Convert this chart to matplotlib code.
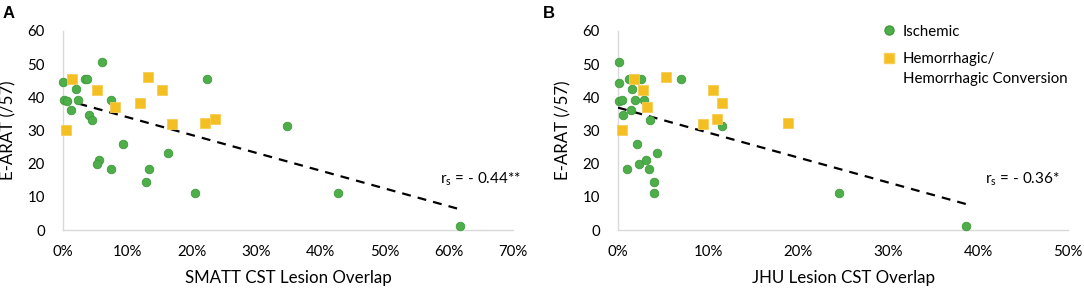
import matplotlib
matplotlib.use("Agg")
import matplotlib.pyplot as plt
import numpy as np
from matplotlib.ticker import FuncFormatter, MultipleLocator
from matplotlib.lines import Line2D

plt.rcParams['font.family'] = ['Lato', 'DejaVu Sans']

# Panel A: SMATT CST lesion overlap (%) vs E-ARAT
a_isch_x = [0.0, 0.1, 0.6, 1.3, 2.0, 2.4, 3.4, 3.7, 4.1, 4.5, 6.1, 7.4, 5.6, 5.3, 7.5,
            9.4, 12.9, 13.4, 16.3, 20.5, 22.4, 34.8, 42.8, 61.8]
a_isch_y = [44.5, 39.3, 38.9, 36.1, 42.4, 39.1, 45.6, 45.6, 34.8, 33.1, 50.8, 39.1, 21.1, 19.9, 18.3,
            26.0, 14.5, 18.3, 23.2, 11.3, 45.4, 31.4, 11.3, 1.1]
a_hem_x = [1.4, 0.5, 5.3, 8.1, 11.9, 13.2, 15.4, 17.0, 22.1, 23.6]
a_hem_y = [45.4, 30.3, 42.1, 37.1, 38.4, 46.0, 42.3, 31.9, 32.4, 33.5]
a_trend = (39.4, -0.537)   # intercept, slope
a_label = r'r$_\mathregular{s}$ = - 0.44**'

# Panel B: JHU lesion CST overlap (%) vs E-ARAT
b_isch_x = [0.08, 0.08, 0.1, 0.4, 0.6, 1.0, 1.2, 1.4, 1.6, 1.9, 2.1, 2.3, 2.6, 2.9, 3.1, 3.4,
            3.5, 4.0, 4.0, 4.3, 7.0, 11.6, 24.6, 38.7]
b_isch_y = [50.8, 44.4, 38.9, 39.3, 34.6, 18.3, 45.6, 36.1, 42.4, 39.1, 26.0, 19.9, 45.6, 39.1, 21.1, 18.3,
            33.1, 14.5, 11.3, 23.2, 45.4, 31.4, 11.3, 1.1]
b_hem_x = [1.8, 0.4, 2.8, 3.2, 5.3, 10.5, 11.6, 9.4, 11.0, 18.9]
b_hem_y = [45.4, 30.3, 42.1, 37.1, 46.0, 42.3, 38.4, 31.9, 33.5, 32.4]
b_trend = (36.9, -0.752)
b_label = r'r$_\mathregular{s}$ = - 0.36*'

legend_labels = ['Ischemic', 'Hemorrhagic/', 'Hemorrhagic Conversion']

GREEN = '#4eae4a'
GREEN_E = '#3f9a3c'
GOLD = '#f4bf22'
GOLD_E = '#f7cd55'

fig = plt.figure(figsize=(10.84, 2.89), dpi=100)
W, H = 1084, 289

def make_ax(left_px, xmax, xlabel, ix, iy, hx, hy, trend, label, label_xy):
    ax = fig.add_axes([left_px / W, (H - 230) / H, 450 / W, 199 / H])
    ax.set_xlim(0, xmax)
    ax.set_ylim(0, 60)
    ax.xaxis.set_major_locator(MultipleLocator(10))
    ax.yaxis.set_major_locator(MultipleLocator(10))
    ax.xaxis.set_major_formatter(FuncFormatter(lambda v, p: f'{int(round(v))}%'))
    for s in ['top', 'right']:
        ax.spines[s].set_visible(False)
    for s in ['left', 'bottom']:
        ax.spines[s].set_color('#d9d9d9')
        ax.spines[s].set_linewidth(1.0)
    ax.tick_params(length=0, labelsize=10.8, colors='black')
    ax.tick_params(axis='y', pad=13)
    ax.tick_params(axis='x', pad=11)
    xmaxd = max(ix + hx)
    xs = np.array([0, xmaxd])
    ax.plot(xs, trend[0] + trend[1] * xs, ls=(0, (4, 3.2)), color='black', lw=1.6, zorder=3)
    ax.scatter(ix, iy, s=38, marker='o', color=GREEN, edgecolors=GREEN_E, linewidths=0.6, zorder=4, clip_on=False)
    ax.scatter(hx, hy, s=44, marker='s', color=GOLD, edgecolors=GOLD_E, linewidths=0.6, zorder=4, clip_on=False)
    ax.set_xlabel(xlabel, fontsize=12.2, labelpad=8)
    ax.set_ylabel('E-ARAT (/57)', fontsize=12.2, labelpad=8)
    ax.text(label_xy[0], label_xy[1], label, fontsize=11, ha='left', va='center')
    return ax

axA = make_ax(63, 70, 'SMATT CST Lesion Overlap', a_isch_x, a_isch_y, a_hem_x, a_hem_y,
              a_trend, a_label, (58.6, 15.3))
axB = make_ax(618, 50, 'JHU Lesion CST Overlap', b_isch_x, b_isch_y, b_hem_x, b_hem_y,
              b_trend, b_label, (40.8, 15.3))

fig.text(3 / W, 1 - 13 / H, 'A', fontsize=12, fontweight='bold', family='Liberation Sans', va='center')
fig.text(543 / W, 1 - 13 / H, 'B', fontsize=12, fontweight='bold', family='Liberation Sans', va='center')

handles = [Line2D([], [], marker='o', ls='', color=GREEN, markeredgecolor=GREEN_E, markersize=6.5),
           Line2D([], [], marker='s', ls='', color=GOLD, markeredgecolor=GOLD_E, markersize=6.5)]
leg = axB.legend(handles, legend_labels[:2], loc='upper left',
                 bbox_to_anchor=((866 - 618) / 450, (230 - 11) / 199), frameon=False, fontsize=10.8,
                 handletextpad=0.35, labelspacing=0.9, handlelength=1.2)

fig.canvas.draw()
bb = leg.get_texts()[1].get_window_extent()
x0, yc = bb.x0, (bb.y0 + bb.y1) / 2
fig.text(x0 / W, (yc - 20) / H, legend_labels[2], fontsize=10.8, ha='left', va='center')

fig.savefig('out.png', dpi=100)
